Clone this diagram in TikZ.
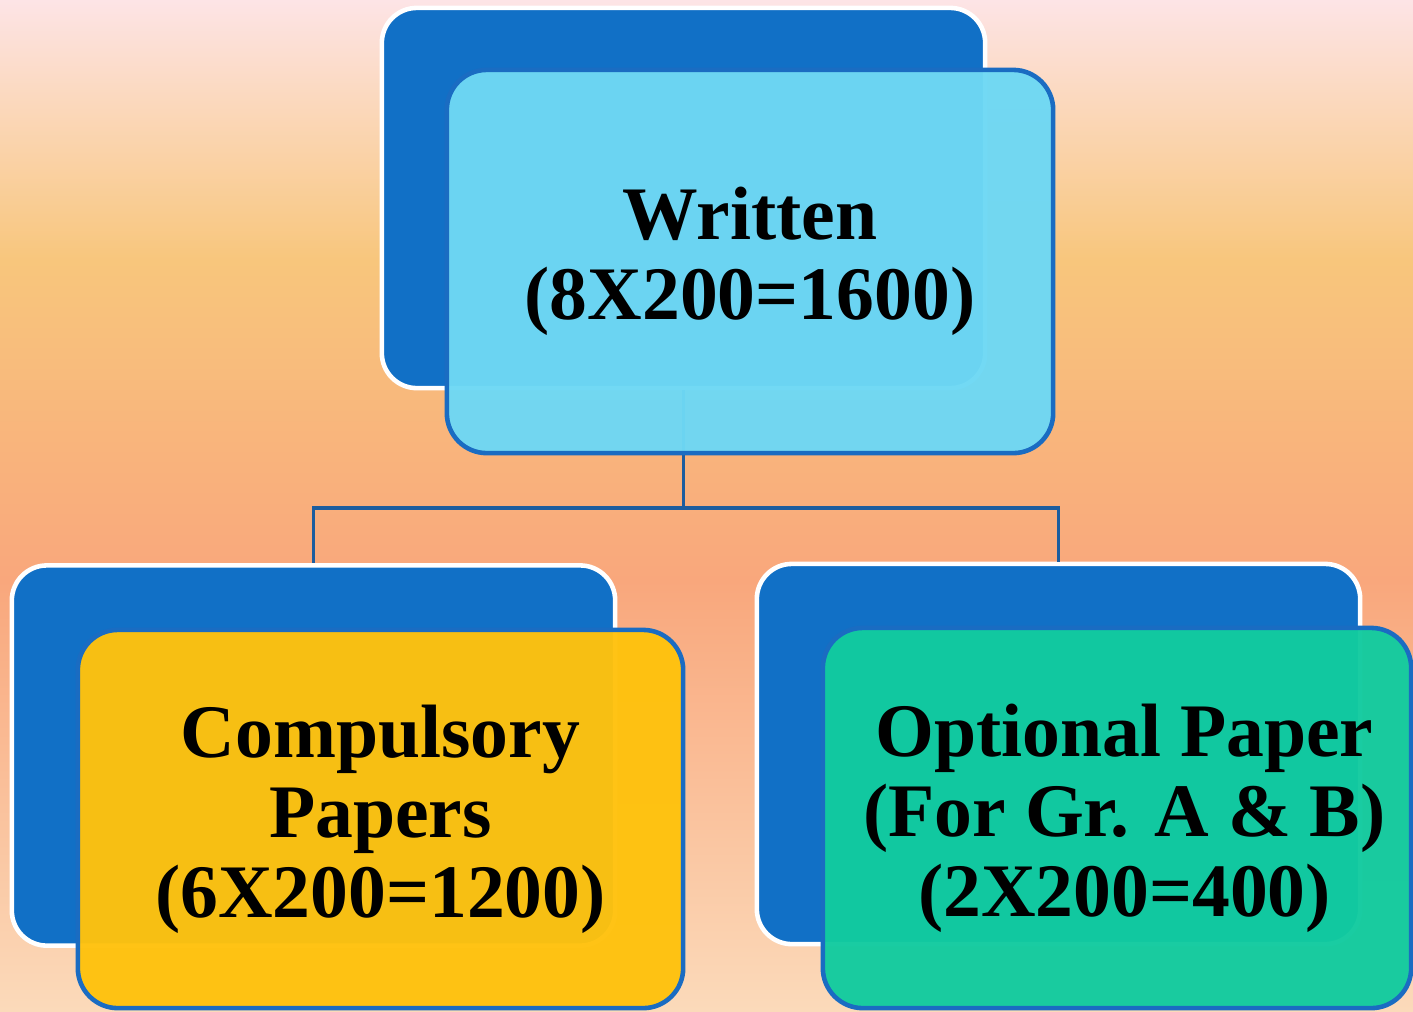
\documentclass[tikz,border=0pt]{standalone}
\usepackage{fontspec}
\setmainfont{Liberation Serif}
\definecolor{backblue}{HTML}{1170C6}
\definecolor{edgeblue}{HTML}{1A6CC2}
\definecolor{linkblue}{HTML}{1D5D9E}
\definecolor{skyfill}{HTML}{6ED8F4}
\definecolor{goldfill}{HTML}{FFC20E}
\definecolor{mintfill}{HTML}{12CB9F}
\definecolor{bgpink}{HTML}{FDE4E6}
\definecolor{bgorange}{HTML}{F8C67C}
\definecolor{bgsalmon}{HTML}{F9A77C}
\definecolor{bgpeach}{HTML}{FBDABA}
\begin{document}
\begin{tikzpicture}[x=0.01cm,y=-0.01cm,thick]
    % `backbox' is the dark blue card behind each label.
    % `frontbox' is the coloured card that carries the text.
    % `link' is used for the tree lines.
    \tikzstyle{backbox} = [draw=white,line width=1.3pt,fill=backblue,rounded corners=3.5mm,minimum width=6.03cm,minimum height=3.8cm]
    \tikzstyle{frontbox} = [draw=edgeblue,line width=1.3pt,rounded corners=4mm,fill opacity=0.97,text opacity=1,align=center,font=\fontsize{21.5}{22.8}\selectfont\bfseries]
    \tikzstyle{link} = [draw=linkblue,line width=1.1pt]
    %
    % Background gradient.
    \useasboundingbox (0,0) rectangle (1413,1011);
    \shade[top color=bgpink,bottom color=bgorange] (0,0) rectangle (1413,261);
    \shade[top color=bgorange,bottom color=bgsalmon] (0,260) rectangle (1413,581);
    \shade[top color=bgsalmon,bottom color=bgpeach] (0,580) rectangle (1413,1011);
    % Back cards.
    \node[backbox] (wback) at (683.5,198) {};
    \node[backbox] (cback) at (313.5,755.5) {};
    \node[backbox] (oback) at (1058.5,754) {};
    % Draw lines.
    \coordinate (split) at (683.5,508);
    \draw[link] (wback.south) -- (split) -| (cback.north)
                (split) -| (oback.north);
    % Front cards.
    \node[frontbox,fill=skyfill,minimum width=6.06cm,minimum height=3.83cm] (written) at (750,261.5) {Written\\(8X200=1600)};
    \node[frontbox,fill=goldfill,minimum width=6.05cm,minimum height=3.78cm] (compulsory) at (380.5,819) {Compulsory\\Papers\\(6X200=1200)};
    \node[frontbox,fill=mintfill,minimum width=5.88cm,minimum height=3.8cm] (optional) at (1117,818) {\hspace*{0.15cm}Optional Paper\\\hspace*{0.15cm}(For Gr. A \& B)\\\hspace*{0.15cm}(2X200=400)};
\end{tikzpicture}
\end{document}
